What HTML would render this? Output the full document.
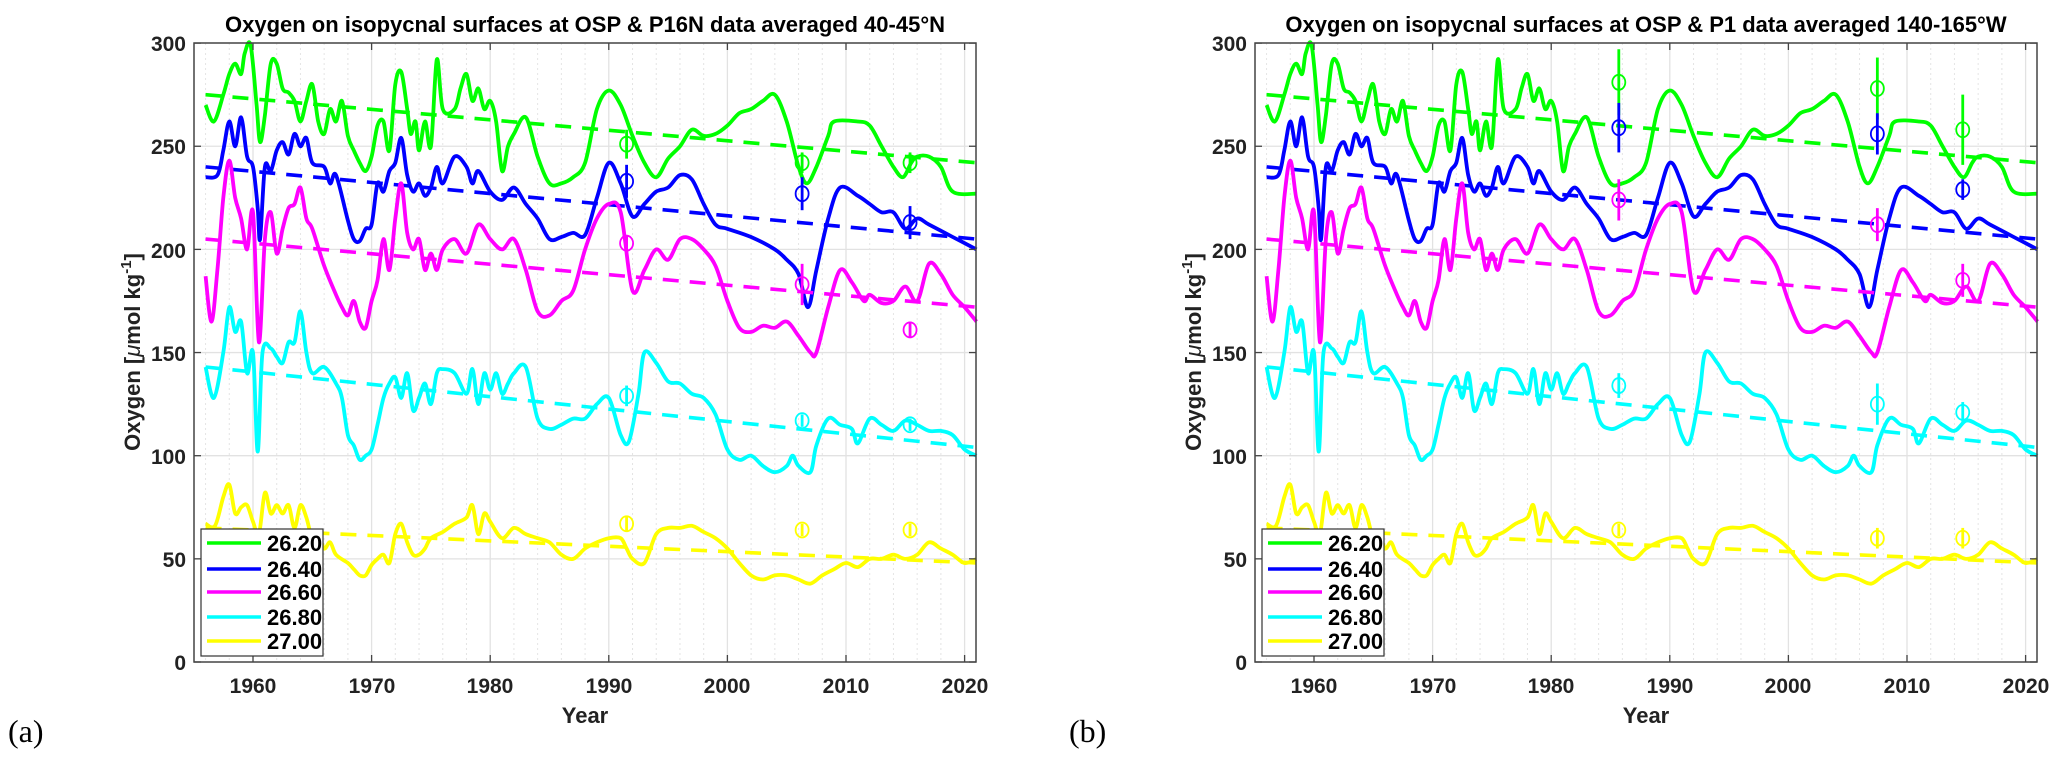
<!DOCTYPE html>
<html><head><meta charset="utf-8"><style>
html,body{margin:0;padding:0;background:#fff;}
svg{display:block;font-family:"Liberation Sans",Arial,sans-serif;}
</style></head><body>
<svg id="s" width="2067" height="775" xmlns="http://www.w3.org/2000/svg">
<g id="pa"></g><g id="pb"></g>
<text x="585" y="32" font-size="22" font-weight="bold" text-anchor="middle">Oxygen on isopycnal surfaces at OSP &amp; P16N data averaged 40-45°N</text>
<g font-size="21" font-weight="bold" text-anchor="end" fill="#222">
<text x="186" y="51">300</text><text x="186" y="154">250</text><text x="186" y="258">200</text><text x="186" y="361">150</text><text x="186" y="464">100</text><text x="186" y="567">50</text><text x="186" y="670">0</text>
</g>
<g font-size="21" font-weight="bold" text-anchor="middle" fill="#222">
<text x="253" y="693">1960</text><text x="372" y="693">1970</text><text x="490" y="693">1980</text><text x="609" y="693">1990</text><text x="727" y="693">2000</text><text x="846" y="693">2010</text><text x="965" y="693">2020</text>
</g>
<text x="585" y="723" font-size="22" font-weight="bold" text-anchor="middle" fill="#222">Year</text>
<text transform="translate(140,352) rotate(-90)" font-size="22" font-weight="bold" text-anchor="middle" fill="#222">Oxygen [<tspan font-style="italic" font-weight="normal">μ</tspan>mol kg<tspan dy="-9" font-size="15">-1</tspan><tspan dy="9">]</tspan></text>
<text x="8" y="742" font-size="32" font-family="Liberation Serif,serif">(a)</text>
<text x="1646" y="32" font-size="22" font-weight="bold" text-anchor="middle">Oxygen on isopycnal surfaces at OSP &amp; P1 data averaged 140-165°W</text>
<g font-size="21" font-weight="bold" text-anchor="end" fill="#222">
<text x="1247" y="51">300</text><text x="1247" y="154">250</text><text x="1247" y="258">200</text><text x="1247" y="361">150</text><text x="1247" y="464">100</text><text x="1247" y="567">50</text><text x="1247" y="670">0</text>
</g>
<g font-size="21" font-weight="bold" text-anchor="middle" fill="#222">
<text x="1314" y="693">1960</text><text x="1433" y="693">1970</text><text x="1551" y="693">1980</text><text x="1670" y="693">1990</text><text x="1788" y="693">2000</text><text x="1907" y="693">2010</text><text x="2026" y="693">2020</text>
</g>
<text x="1646" y="723" font-size="22" font-weight="bold" text-anchor="middle" fill="#222">Year</text>
<text transform="translate(1201,352) rotate(-90)" font-size="22" font-weight="bold" text-anchor="middle" fill="#222">Oxygen [<tspan font-style="italic" font-weight="normal">μ</tspan>mol kg<tspan dy="-9" font-size="15">-1</tspan><tspan dy="9">]</tspan></text>
<text x="1069" y="742" font-size="32" font-family="Liberation Serif,serif">(b)</text>
<g font-size="22" font-weight="bold">
<rect x="201" y="529" width="122" height="127" fill="#fff" stroke="#333" stroke-width="1.2"/>
<line x1="207" y1="543" x2="261" y2="543" stroke="#00ff00" stroke-width="3.5"/><text x="267" y="551">26.20</text>
<line x1="207" y1="569" x2="261" y2="569" stroke="#0000ff" stroke-width="3.5"/><text x="267" y="577">26.40</text>
<line x1="207" y1="592" x2="261" y2="592" stroke="#ff00ff" stroke-width="3.5"/><text x="267" y="600">26.60</text>
<line x1="207" y1="617" x2="261" y2="617" stroke="#00ffff" stroke-width="3.5"/><text x="267" y="625">26.80</text>
<line x1="207" y1="641" x2="261" y2="641" stroke="#ffff00" stroke-width="3.5"/><text x="267" y="649">27.00</text>
</g>
<g font-size="22" font-weight="bold" transform="translate(1061,0)">
<rect x="201" y="529" width="122" height="127" fill="#fff" stroke="#333" stroke-width="1.2"/>
<line x1="207" y1="543" x2="261" y2="543" stroke="#00ff00" stroke-width="3.5"/><text x="267" y="551">26.20</text>
<line x1="207" y1="569" x2="261" y2="569" stroke="#0000ff" stroke-width="3.5"/><text x="267" y="577">26.40</text>
<line x1="207" y1="592" x2="261" y2="592" stroke="#ff00ff" stroke-width="3.5"/><text x="267" y="600">26.60</text>
<line x1="207" y1="617" x2="261" y2="617" stroke="#00ffff" stroke-width="3.5"/><text x="267" y="625">26.80</text>
<line x1="207" y1="641" x2="261" y2="641" stroke="#ffff00" stroke-width="3.5"/><text x="267" y="649">27.00</text>
</g>
</svg>
<script>
var NS="http://www.w3.org/2000/svg";
var G=[1956,270,1956.7,262,1957.5,275,1958,285,1958.5,290,1959,285,1959.3,295,1959.8,299,1960.3,270,1960.6,252,1961,265,1961.5,290,1962,290,1962.5,278,1963,276,1963.5,272,1964,262,1964.5,272,1965,280,1965.5,262,1966,256,1966.5,268,1967,262,1967.5,272,1968,255,1968.5,248,1969,242,1969.5,238,1970,245,1970.5,260,1971,262,1971.5,248,1972,280,1972.5,286,1973,268,1973.3,256,1973.7,262,1974,248,1974.5,262,1975,250,1975.5,292,1976,268,1977,268,1977.5,278,1978,285,1978.5,272,1979,278,1979.5,268,1980,272,1980.5,262,1981,238,1981.5,250,1982,256,1983,264,1984,245,1985,232,1986,232,1987,235,1988,242,1989,268,1990,277,1991,270,1992,255,1993,242,1994,235,1995,244,1996,250,1997,258,1998,255,1999,256,2000,260,2001,266,2002,268,2003,272,2004,275,2005,262,2006,240,2006.7,232,2007.5,240,2008.5,255,2009,262,2011,262,2012,260,2013,250,2014,240,2014.8,235,2015.5,242,2016,245,2017,245,2018,240,2019,228,2021,227];
var B=[1956,235,1957,236,1957.5,248,1958,262,1958.5,250,1959,264,1959.5,245,1960,240,1960.4,220,1960.6,205,1961,240,1961.5,238,1962,248,1962.5,252,1963,246,1963.5,256,1964,250,1964.5,254,1965,242,1966,240,1966.5,232,1967,236,1968,214,1968.5,205,1969,204,1969.5,210,1970,212,1970.5,232,1971,228,1971.5,238,1972,242,1972.5,254,1973,236,1973.5,228,1974,232,1974.5,226,1975,230,1975.5,240,1976,232,1977,245,1978,240,1978.5,232,1979,238,1980,228,1981,224,1982,230,1983,222,1984,215,1985,205,1986,206,1987,208,1988,207,1989,225,1990,242,1991,232,1992,216,1993,222,1994,228,1995,230,1996,236,1997,234,1998,222,1999,212,2000,210,2002,206,2004,200,2005,195,2006,188,2006.8,172,2007.5,190,2008.5,215,2009.5,230,2011,226,2012,222,2013,218,2014,218,2015,210,2016,215,2017,212,2019,206,2021,200];
var M=[1956,187,1956.5,165,1957,190,1957.5,225,1958,243,1958.5,225,1959,215,1959.5,200,1960,218,1960.5,155,1961,205,1961.5,218,1962,198,1962.5,210,1963,220,1963.5,222,1964,230,1964.5,215,1965,210,1966,192,1967,178,1967.5,172,1968,168,1968.5,175,1969,165,1969.5,162,1970,175,1970.5,185,1971,205,1971.5,190,1972,215,1972.5,232,1973,208,1973.5,200,1974,205,1974.5,190,1975,198,1975.5,190,1976,200,1977,205,1978,198,1979,212,1980,205,1981,200,1982,205,1983,190,1984,170,1985,168,1986,175,1987,180,1988,200,1989,215,1990,222,1991,218,1992,180,1993,190,1994,200,1995,195,1996,205,1997,205,1998,200,1999,192,2000,175,2001,162,2002,160,2003,163,2004,162,2005,165,2006,158,2007,150,2007.5,150,2008.5,172,2009.5,190,2010.5,184,2011.5,175,2012,178,2013,174,2014,175,2015,182,2016,175,2017,193,2018,188,2019,178,2020,172,2021,165];
var C=[1956,143,1956.7,128,1957.5,150,1958,172,1958.5,160,1959,165,1959.5,140,1960,150,1960.4,102,1960.8,150,1961.5,152,1962,148,1962.5,145,1963,155,1963.5,155,1964,170,1964.5,150,1965,140,1966,143,1967,135,1967.5,128,1968,110,1968.5,105,1969,98,1969.5,100,1970,103,1970.5,115,1971,128,1971.5,135,1972,138,1972.5,128,1973,140,1973.5,122,1974,128,1974.5,135,1975,125,1975.5,140,1976,142,1977,140,1978,130,1978.5,142,1979,125,1979.5,140,1980,132,1980.5,140,1981,130,1981.5,135,1982,140,1983,143,1984,118,1985,113,1986,115,1987,118,1988,118,1989,125,1990,128,1991,110,1991.7,107,1992.5,130,1993,150,1994,145,1995,136,1996,135,1997,130,1998,128,1999,120,2000,103,2001,98,2002,100,2003,95,2004,92,2005,95,2005.5,100,2006,95,2007,92,2007.5,105,2008.5,118,2009.5,115,2010.5,113,2011,106,2012,118,2013,115,2014,112,2015,117,2016,115,2017,112,2018,112,2019,110,2020,103,2021,100];
var Y=[1956,67,1956.8,66,1957.5,80,1958,86,1958.5,72,1959,75,1959.5,76,1960,68,1960.5,62,1961,82,1961.5,72,1962,76,1962.5,72,1963,76,1963.5,65,1964,76,1964.5,70,1965,60,1965.5,62,1966,55,1966.5,58,1967,52,1968,48,1968.5,45,1969,42,1969.5,42,1970,47,1970.5,50,1971,52,1971.5,48,1972,62,1972.5,67,1973,58,1973.5,52,1974,52,1974.5,55,1975,60,1976,63,1977,67,1978,70,1978.5,76,1979,62,1979.5,72,1980,68,1981,60,1982,65,1983,62,1984,60,1985,58,1986,52,1987,50,1988,55,1989,58,1990,60,1991,60,1991.5,55,1992,50,1993,48,1994,62,1995,65,1996,65,1997,66,1998,63,1999,60,2000,55,2001,48,2002,42,2003,40,2004,42,2005,42,2006,40,2007,38,2008,42,2009,45,2010,48,2011,46,2012,50,2013,50,2014,52,2015,50,2016,52,2017,58,2018,55,2019,52,2020,48,2021,50];
var series=[["#00ff00",G,275,242],["#0000ff",B,240,205],["#ff00ff",M,205,172],["#00ffff",C,143,104],["#ffff00",Y,65,48]];
var obsA=[[1991.5,[[251,7],[233,8],[203,4],[129,5],[67,4]]],[2006.3,[[242,5],[227,8],[183,10],[117,3],[64,3]]],[2015.4,[[242,5],[213,8],[161,4],[115,3],[64,3]]]];
var obsB=[[1985.7,[[281,16],[259,12],[224,10],[134,6],[64,3]]],[2007.5,[[278,15],[256,10],[212,8],[125,10],[60,5]]],[2014.7,[[258,17],[229,5],[185,8],[121,5],[60,5]]]];
function el(n,a,p){var e=document.createElementNS(NS,n);for(var k in a)e.setAttribute(k,a[k]);p.appendChild(e);return e;}
function smooth(P){var d="M"+P[0][0].toFixed(1)+","+P[0][1].toFixed(1);
 for(var i=0;i<P.length-1;i++){var p0=P[i-1]||P[i],p1=P[i],p2=P[i+1],p3=P[i+2]||p2;
  var c1x=p1[0]+(p2[0]-p0[0])/6,c1y=p1[1]+(p2[1]-p0[1])/6,c2x=p2[0]-(p3[0]-p1[0])/6,c2y=p2[1]-(p3[1]-p1[1])/6;
  d+=" C"+c1x.toFixed(1)+","+c1y.toFixed(1)+" "+c2x.toFixed(1)+","+c2y.toFixed(1)+" "+p2[0].toFixed(1)+","+p2[1].toFixed(1);}
 return d;}
function panel(g,dx,obs){
 function X(t){return dx+253+(t-1960)*11.86;}
 function Yv(v){return 662-v*2.063;}
 var x0=dx+194,x1=dx+976;
 for(var t=1956;t<=2020;t+=2){if(t%10==0)continue;el("line",{x1:X(t),x2:X(t),y1:43,y2:662,stroke:"#e4e4e4","stroke-width":1,"stroke-dasharray":"2 3"},g);}
 for(var t=1960;t<=2020;t+=10)el("line",{x1:X(t),x2:X(t),y1:43,y2:662,stroke:"#e2e2e2","stroke-width":1.3},g);
 for(var v=50;v<300;v+=50)el("line",{x1:x0,x2:x1,y1:Yv(v),y2:Yv(v),stroke:"#e2e2e2","stroke-width":1.3},g);
 series.forEach(function(s){
  var d=s[1],pts=[];for(var i=0;i<d.length;i+=2)pts.push([X(d[i]),Yv(d[i+1])]);
  el("path",{d:smooth(pts),fill:"none",stroke:s[0],"stroke-width":3.8,"stroke-linejoin":"round"},g);
  el("line",{x1:X(1956),y1:Yv(s[2]),x2:X(2021),y2:Yv(s[3]),stroke:s[0],"stroke-width":3.6,"stroke-dasharray":"16 11"},g);
 });
 obs.forEach(function(o){var xx=X(o[0]);o[1].forEach(function(m,i){var c=series[i][0];
  el("line",{x1:xx,x2:xx,y1:Yv(m[0]+m[1]),y2:Yv(m[0]-m[1]),stroke:c,"stroke-width":2.8},g);
  el("ellipse",{cx:xx,cy:Yv(m[0]),rx:6.5,ry:7.5,fill:"none",stroke:c,"stroke-width":1.8},g);});});
 el("rect",{x:x0,y:43,width:x1-x0,height:619,fill:"none",stroke:"#444","stroke-width":1.5},g);
 for(var t=1960;t<=2020;t+=10){el("line",{x1:X(t),x2:X(t),y1:662,y2:655,stroke:"#444","stroke-width":1.3},g);el("line",{x1:X(t),x2:X(t),y1:43,y2:50,stroke:"#444","stroke-width":1.3},g);}
 for(var v=0;v<=300;v+=50){el("line",{x1:x0,x2:x0+7,y1:Yv(v),y2:Yv(v),stroke:"#444","stroke-width":1.3},g);el("line",{x1:x1,x2:x1-7,y1:Yv(v),y2:Yv(v),stroke:"#444","stroke-width":1.3},g);}
}
panel(document.getElementById("pa"),0,obsA);
panel(document.getElementById("pb"),1061,obsB);
</script>
</body></html>
